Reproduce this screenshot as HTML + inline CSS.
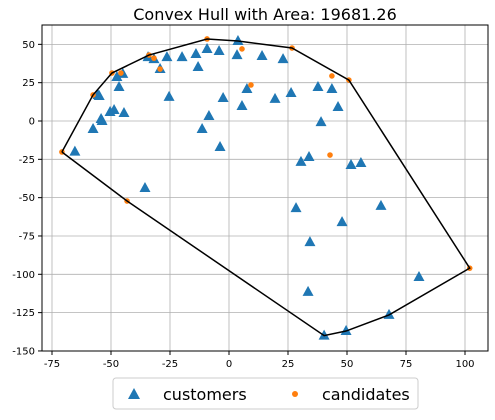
<!DOCTYPE html>
<html><head><meta charset="utf-8"><style>
body{margin:0;background:#fff;font-family:"Liberation Sans","DejaVu Sans",sans-serif}
svg text{font-family:"DejaVu Sans","Liberation Sans",sans-serif}
</style></head><body>
<svg id="c" width="495" height="415" xmlns="http://www.w3.org/2000/svg">
<rect width="495" height="415" fill="#fff"/>
<text x="265" y="20" text-anchor="middle" font-size="16">Convex Hull with Area: 19681.26</text>
<g id="grid"></g><g id="ticks"></g><g id="marks"></g>
<rect x="42" y="25" width="446" height="326" fill="none" stroke="#000" stroke-width="1"/>
<g>
<rect x="113" y="378" width="305" height="31" rx="3" fill="#fff" stroke="#ccc"/>
<polygon points="134,388 128,399 140,399" fill="#1f77b4"/>
<text x="163" y="400" font-size="16">customers</text>
<circle cx="295" cy="394" r="3" fill="#ff7f0e"/>
<text x="322" y="400" font-size="16">candidates</text>
</g>
</svg>
<script>
const xTicks=[-75,-50,-25,0,25,50,75,100];
const yTicks=[50,25,0,-25,-50,-75,-100,-125,-150];
const custX=[-65.3,-55.5,-57.6,-54.2,-50.4,-48.7,-44.5,-55,-47.5,-45,-46.6,-53.8,-35.6,-34.3,-31.8,-29.2,-26.3,-25.4,-19.9,-14,-13.1,-9.3,-4.2,3.4,3.8,-2.5,-8.5,-11.4,-3.8,7.6,5.5,14,22.9,19.5,26.3,37.7,43.6,46.2,39,30.5,33.9,51.7,55.9,64.4,28.4,34.3,33.5,40.3,49.6,47.9,67.8,80.5];
const custY=[-20,17,-5.2,1.3,5.9,7.2,5.2,16.3,28.7,30.7,22.2,0,-43.7,41.7,40.4,33.9,41.7,15.7,41.7,43.7,35.2,47,45.7,43,52.2,15,3.3,-5.2,-17,20.9,9.8,42.4,40.4,14.4,18.3,22.2,20.9,9.1,-0.7,-26.7,-23.5,-28.7,-27.4,-55.4,-56.8,-79,-111.5,-140,-137,-66,-126.5,-101.8];
const candX=[-70.8,-57.6,-49.6,-45.8,-33.9,-31.8,-29.2,-9.3,5.5,9.3,-43.2,26.7,43.6,50.8,42.8,102];
const candY=[-20.2,17,31.3,31.3,43,41,33.9,53.5,47,23.5,-52.2,47.6,29.4,26.7,-22.2,-96];
const X=v=>229+v*2.36, Y=v=>121-v*1.533;
const NS="http://www.w3.org/2000/svg";
function mk(t,a,p){const e=document.createElementNS(NS,t);for(const k in a)e.setAttribute(k,a[k]);p.appendChild(e);return e;}
const grid=document.getElementById('grid'),ticks=document.getElementById('ticks'),marks=document.getElementById('marks');
xTicks.forEach(t=>{const x=X(t);
const g=mk('line',{x1:x,x2:x,y1:25,y2:351,stroke:'#b0b0b0','stroke-width':0.8},grid);


mk('line',{x1:x,x2:x,y1:351,y2:355,stroke:'#000'},ticks);
const tx=mk('text',{x:x,y:367,'text-anchor':'middle','font-size':10},ticks);tx.textContent=t;

});
yTicks.forEach(t=>{const y=Y(t);
const g=mk('line',{x1:42,x2:488,y1:y,y2:y,stroke:'#b0b0b0','stroke-width':0.8},grid);


mk('line',{x1:38,x2:42,y1:y,y2:y,stroke:'#000'},ticks);
const tx=mk('text',{x:35,y:y+3.5,'text-anchor':'end','font-size':10},ticks);tx.textContent=t;

});
custX.forEach((v,i)=>{const x=X(v),y=Y(custY[i]);
const p=mk('polygon',{points:`${x},${y-6} ${x-5.5},${y+4} ${x+5.5},${y+4}`,fill:'#1f77b4'},marks);

});
candX.forEach((v,i)=>{
const c=mk('circle',{cx:X(v),cy:Y(candY[i]),r:2.8,fill:'#ff7f0e'},marks);

});
// convex hull
const pts=custX.map((v,i)=>[v,custY[i]]).concat(candX.map((v,i)=>[v,candY[i]])).sort((a,b)=>a[0]-b[0]||a[1]-b[1]);
const cr=(o,a,b)=>(a[0]-o[0])*(b[1]-o[1])-(a[1]-o[1])*(b[0]-o[0]);
const lo=[],up=[];
for(const p of pts){while(lo.length>=2&&cr(lo[lo.length-2],lo[lo.length-1],p)<=0)lo.pop();lo.push(p);}
for(const p of pts.slice().reverse()){while(up.length>=2&&cr(up[up.length-2],up[up.length-1],p)<=0)up.pop();up.push(p);}
const hull=lo.slice(0,-1).concat(up.slice(0,-1));hull.push(hull[0]);
const hl=mk('polyline',{points:hull.map(p=>X(p[0])+','+Y(p[1])).join(' '),fill:'none',stroke:'#000','stroke-width':1.5},marks);


</script>
</body></html>
